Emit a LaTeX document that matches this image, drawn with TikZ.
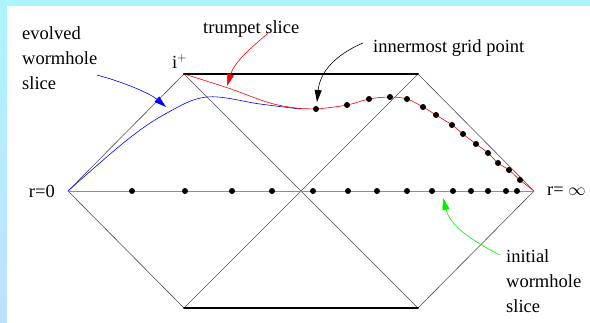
\documentclass[tikz,border=0pt]{standalone}
\usepackage{fontspec}
\setmainfont{Liberation Serif}
\usetikzlibrary{arrows.meta}
\definecolor{pd-frametop}{HTML}{ADF5FD}
\definecolor{pd-framelow}{HTML}{C0E0FF}
\definecolor{pd-line}{HTML}{505050}
\definecolor{pd-green}{HTML}{00F000}
\tikzset{
  diag/.style={pd-line, line width=0.6pt},
  sing/.style={black, line width=2pt},
  lbl/.style={font=\fontsize{18.5}{25}\selectfont, inner sep=0pt, align=left},
  pointer/.style={-{Triangle[length=12pt,width=7pt]}, line width=0.6pt},
}

\begin{document}
\begin{tikzpicture}[x=1pt, y=-1pt, line cap=round, line join=round]
  \useasboundingbox (0,0) rectangle (590,322);
  % rahmen
  \shade[top color=pd-frametop, bottom color=pd-framelow] (0,0) rectangle (590,322);
  \fill[white] (7,6) rectangle (600,330);
  % penrose diagram
  \coordinate (rzero) at (68,191);
  \coordinate (iplus) at (184,74);
  \coordinate (itr) at (418,74);
  \coordinate (rinf) at (534,191);
  \coordinate (ibr) at (418,308);
  \coordinate (ibl) at (184,308);
  \draw[diag] (rzero) -- (iplus) -- (ibr) -- (rinf) -- (itr) -- (ibl) -- cycle;
  \draw[sing] (iplus) -- (itr);
  \draw[sing] (ibl) -- (ibr);
  % initial slice
  \draw[pd-green, line width=0.6pt] (rzero) -- (rinf);
  \foreach \x in {132,185,232,272,313,348,377,407,432,453,471,488,506,517}
    \fill (\x,191) circle (3pt);
  % evolved slice
  \draw[blue, line width=0.6pt] plot[smooth, tension=0.6] coordinates
    {(68,191) (127,140) (167,113) (207,97) (260,104) (300,109)};
  % trumpet slice
  \draw[red, line width=0.6pt] plot[smooth, tension=0.6] coordinates
    {(184,74) (228,88) (270,103) (300,108.5) (316,109) (347,105) (369,99)
     (390,97) (407,99) (423,107) (436,115) (452,125) (463,134) (476,144)
     (488,153) (498,163) (509,170) (520,180) (534,191)};
  \foreach \x/\y in {316/109,347/105,369/99,390/97,407/99,423/107,436/115,
      452/125,463/134,476/144,488/153,498/163,509/170,520/180}
    \fill (\x,\y) circle (3pt);
  % labels
  \node[lbl, anchor=base west] (evolved) at (22,89) {evolved\\wormhole\\slice};
  \node[lbl, anchor=base west] (trumpet) at (203,33) {trumpet slice};
  \node[lbl, anchor=base west] (innermost) at (373,52) {innermost grid point};
  \node[lbl, anchor=base west] (iplus-lbl) at (172,68) {i$^+$};
  \node[lbl, anchor=east] (rzero-lbl) at (55,191) {r=0};
  \node[lbl, anchor=west] (rinf-lbl) at (547,191) {r= $\infty$};
  \node[lbl, anchor=base west] (initial) at (506,312) {initial\\wormhole\\slice};
  % pointers
  \coordinate (evolved-from) at (97,75);
  \coordinate (evolved-to) at (166,107);
  \draw[pointer, blue] (evolved-from) .. controls (130,84) and (152,95) .. (evolved-to);
  \coordinate (trumpet-from) at (268,33);
  \coordinate (trumpet-to) at (227,86);
  \draw[pointer, red] (trumpet-from) .. controls (255,45) and (235,60) .. (trumpet-to);
  \coordinate (innermost-from) at (363,43);
  \coordinate (innermost-to) at (317,102);
  \draw[pointer, black] (innermost-from) .. controls (335,55) and (320,72) .. (innermost-to);
  \coordinate (initial-from) at (500,255);
  \coordinate (initial-to) at (443,198);
  \draw[pointer, pd-green] (initial-from) .. controls (470,240) and (450,225) .. (initial-to);
\end{tikzpicture}
\end{document}
